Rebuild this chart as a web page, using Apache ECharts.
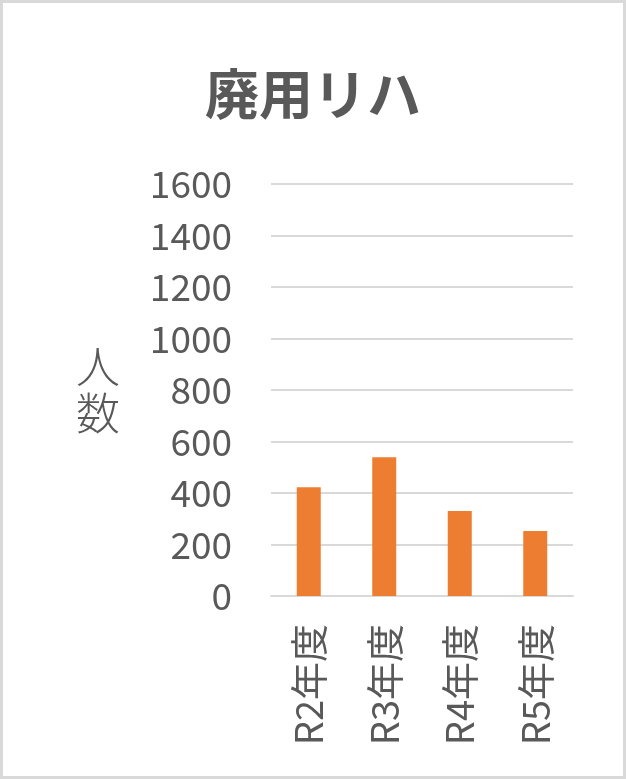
<!DOCTYPE html>
<html>
<head>
<meta charset="utf-8">
<script src="https://cdn.jsdelivr.net/npm/echarts@6/dist/echarts.min.js"></script>
<style>
  html, body { margin: 0; padding: 0; background: #fff; }
  #wrap { position: relative; width: 626px; height: 779px; }
  #chart { width: 626px; height: 779px; }
  #frame {
    position: absolute; left: 0; top: 0; width: 626px; height: 779px;
    box-sizing: border-box; border: 3px solid #d9d9d9; pointer-events: none;
  }
</style>
</head>
<body>
<div id="wrap">
  <div id="chart"></div>
  <div id="frame"></div>
</div>
<script>
// データ
const categories = ['R2年度', 'R3年度', 'R4年度', 'R5年度'];
const values = [422, 539, 330, 252];
const titleText = '廃用リハ';
const yName = '人数';

const font = '"Noto Sans CJK JP", "Noto Sans", sans-serif';
const textColor = '#595959';

let chart = echarts.init(document.getElementById('chart'));
chart.setOption({
  animation: false,
  title: {
    text: titleText,
    left: 'center',
    top: 62,
    textStyle: {
      fontFamily: font,
      fontSize: 54,
      fontWeight: 'bold',
      color: textColor
    }
  },
  grid: {
    left: 271,
    right: 53,
    top: 184,
    bottom: 183
  },
  xAxis: {
    type: 'category',
    data: categories,
    axisLine: { show: true, lineStyle: { color: '#d9d9d9', width: 2 } },
    axisTick: { show: false },
    axisLabel: {
      rotate: 90,
      margin: 28,
      fontFamily: font,
      fontSize: 38,
      color: textColor
    }
  },
  yAxis: {
    type: 'value',
    min: 0,
    max: 1600,
    interval: 200,
    name: yName.split('').join('\n'),
    nameLocation: 'middle',
    nameRotate: 0,
    nameGap: 151,
    nameTextStyle: {
      fontFamily: font,
      fontSize: 44,
      fontWeight: 300,
      lineHeight: 47,
      color: textColor
    },
    axisLine: { show: false },
    axisTick: { show: false },
    axisLabel: {
      margin: 39,
      fontFamily: font,
      fontSize: 37,
      color: textColor,
      formatter: v => String(v)
    },
    splitLine: { lineStyle: { color: '#d9d9d9', width: 2 } }
  },
  series: [
    {
      type: 'bar',
      data: values,
      barWidth: 24,
      itemStyle: { color: '#ed7d31' }
    }
  ]
});
</script>
</body>
</html>
